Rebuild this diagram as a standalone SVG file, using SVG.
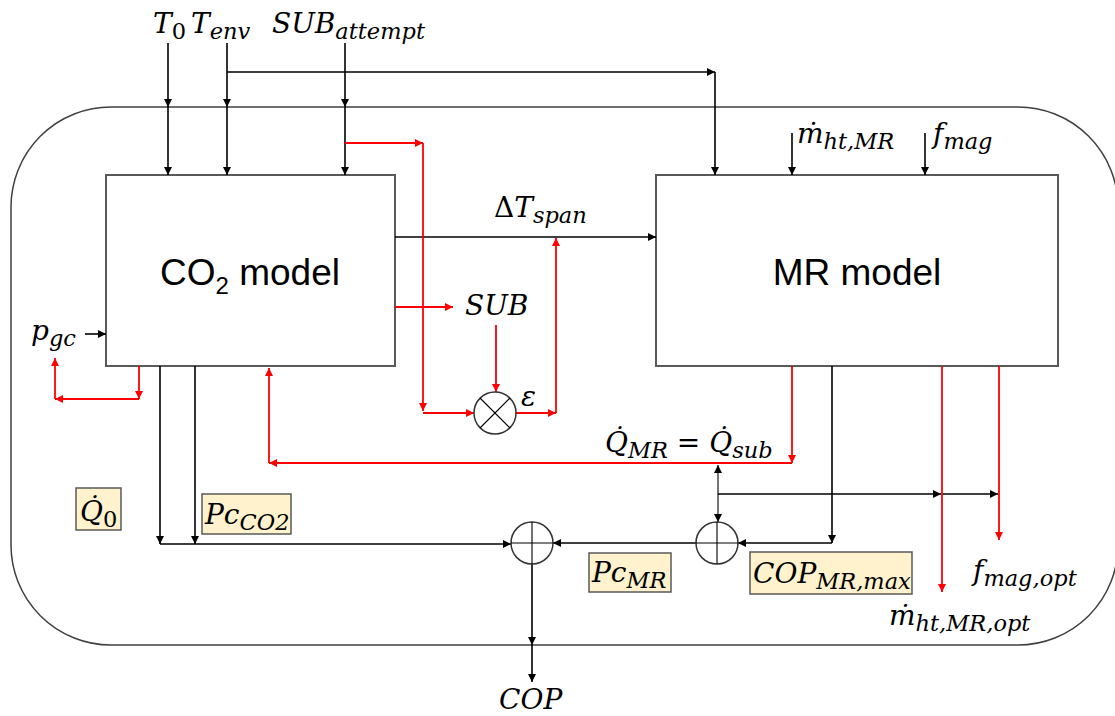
<svg xmlns="http://www.w3.org/2000/svg" width="1115" height="716" viewBox="0 0 1115 716">
<style>
.bx{fill:#fff;stroke:#595959;stroke-width:2}
.lb{fill:#fff2cc;stroke:#595959;stroke-width:1.5}
.k{fill:none;stroke:#000;stroke-width:1.6}
.k1{fill:none;stroke:#000;stroke-width:1.1}
.r{fill:none;stroke:#ff0000;stroke-width:1.8}
.kA{marker-end:url(#ak)}
.rA{marker-end:url(#ar)}
.m{font-family:"DejaVu Serif","Liberation Serif",serif;font-style:italic;font-size:28px;fill:#000}
.s{font-size:22.5px}
.up{font-style:normal}
.t{font-family:"Liberation Sans",Arial,sans-serif;font-size:37px;fill:#000}
.sum{fill:#fff;stroke:#333;stroke-width:1.5}
</style>
<defs>
<marker id="ak" viewBox="0 0 10 10" refX="10" refY="5" markerWidth="9" markerHeight="8" markerUnits="userSpaceOnUse" orient="auto"><path d="M0,0 L10,5 L0,10 z" fill="#000"/></marker>
<marker id="ar" viewBox="0 0 10 10" refX="10" refY="5" markerWidth="9" markerHeight="8" markerUnits="userSpaceOnUse" orient="auto"><path d="M0,0 L10,5 L0,10 z" fill="#ff0000"/></marker>
</defs>
<rect id="frame" x="11" y="107" width="1107" height="538" rx="100" ry="100" fill="none" stroke="#404040" stroke-width="1.5"/>
<g id="co2">
<rect class="bx" x="106" y="175" width="289" height="191"/>
<text class="t" x="250" y="285" text-anchor="middle">CO<tspan font-size="24" dy="9">2</tspan><tspan dy="-9"> model</tspan></text>
</g>
<g id="mr">
<rect class="bx" x="656" y="175" width="402" height="191"/>
<text class="t" x="857" y="285" text-anchor="middle">MR model</text>
</g>
<g id="connectors">
<path class="k kA" d="M168,43 V107"/><path class="k kA" d="M168,107 V175"/>
<path class="k kA" d="M227,43 V107"/><path class="k kA" d="M227,107 V175"/>
<path class="k kA" d="M345,43 V107"/><path class="k kA" d="M345,107 V175"/>
<path class="k kA" d="M227,72 H715"/><path class="k kA" d="M715,72 V175"/>
<path class="k kA" d="M395,237 H656"/>
<path class="k kA" d="M85,334 H106"/>
<path class="k kA" d="M792,133 V175"/>
<path class="k kA" d="M925,133 V175"/>
<path class="k kA" d="M160,366 V544"/><path class="k kA" d="M160,544 H511"/>
<path class="k kA" d="M195,366 V544"/>
<path class="k kA" d="M832,366 V543"/><path class="k kA" d="M832,543 H738"/>
<path class="k kA" d="M696,543 H553"/>
<path class="k1 kA" d="M718,494 V465"/><path class="k1 kA" d="M718,494 V522"/>
<path class="k kA" d="M718,494 H941"/><path class="k kA" d="M942,494 H998"/>
<path class="k kA" d="M532,564 V645"/><path class="k kA" d="M532,645 V682"/>
<path class="r rA" d="M345,143 H423"/><path class="r rA" d="M423,143 V411"/><path class="r rA" d="M423,413 H474"/>
<path class="r rA" d="M395,307 H453"/>
<path class="r rA" d="M496,325 V392"/>
<path class="r rA" d="M516,413 H556"/><path class="r rA" d="M556,413 V238"/>
<path class="r rA" d="M139,366 V399"/><path class="r rA" d="M139,399 H55"/><path class="r rA" d="M55,399 V358"/>
<path class="r rA" d="M792,366 V463"/><path class="r rA" d="M792,463 H269"/><path class="r rA" d="M269,463 V368"/>
<path class="r rA" d="M942,366 V592"/>
<path class="r rA" d="M999,366 V540"/>
</g>
<g id="mult">
<circle class="sum" cx="495" cy="413" r="21"/>
<path class="k1" d="M480,398 L510,428 M510,398 L480,428" stroke="#333"/>
</g>
<g id="sum1">
<circle class="sum" cx="532" cy="543" r="21"/>
<path class="k1" d="M511,543 H553 M532,522 V564" stroke="#333"/>
</g>
<g id="sum2">
<circle class="sum" cx="717" cy="543" r="21"/>
<path class="k1" d="M696,543 H738 M717,522 V564" stroke="#333"/>
</g>
<g id="labels">
<text class="m" x="153" y="33">T<tspan class="s up" dy="6">0</tspan></text>
<text class="m" x="191" y="33">T<tspan class="s" dy="6">env</tspan></text>
<text class="m" x="272" y="33">SUB<tspan class="s" dy="6">attempt</tspan></text>
<text class="m" x="494" y="217"><tspan class="up">Δ</tspan>T<tspan class="s" dy="6">span</tspan></text>
<text class="m" x="465" y="315">SUB</text>
<text class="m" x="521" y="406">ε</text>
<text class="m" x="605" y="452">Q̇<tspan class="s" dy="6">MR</tspan><tspan dy="-6" class="up"> = </tspan>Q̇<tspan class="s" dy="6">sub</tspan></text>
<text class="m" x="31" y="340">p<tspan class="s" dy="6">gc</tspan></text>
<text class="m" x="797" y="143">ṁ<tspan class="s" dy="6">ht,MR</tspan></text>
<text class="m" x="933" y="143">f<tspan class="s" dy="6">mag</tspan></text>
<text class="m" x="973" y="580">f<tspan class="s" dy="6">mag,opt</tspan></text>
<text class="m" x="889" y="625">ṁ<tspan class="s" dy="6">ht,MR,opt</tspan></text>
<text class="m" x="499" y="709">COP</text>
</g>
<g id="q0">
<rect class="lb" x="76" y="488" width="45" height="42"/>
<text class="m" x="80" y="521">Q̇<tspan class="s up" dy="6">0</tspan></text>
</g>
<g id="pcco2">
<rect class="lb" x="202" y="494" width="89" height="40"/>
<text class="m" x="205" y="524">Pc<tspan class="s" dy="6">CO2</tspan></text>
</g>
<g id="pcmr">
<rect class="lb" x="589" y="553" width="82" height="39"/>
<text class="m" x="592" y="582">Pc<tspan class="s" dy="6">MR</tspan></text>
</g>
<g id="copmax">
<rect class="lb" x="750" y="552" width="162" height="42"/>
<text class="m" x="753" y="583">COP<tspan class="s" dy="6">MR,max</tspan></text>
</g>
</svg>
